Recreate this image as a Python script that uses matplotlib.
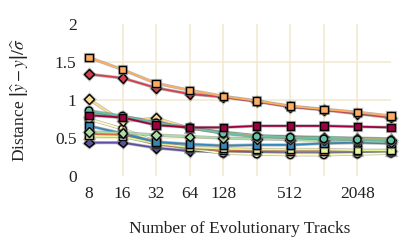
import matplotlib
matplotlib.use("Agg")
import matplotlib.pyplot as plt
import matplotlib.patheffects as pe

plt.rcParams['font.family'] = ['Liberation Serif', 'DejaVu Serif']
plt.rcParams['mathtext.fontset'] = 'stix'

tracks = [8, 16, 32, 64, 128, 256, 512, 1024, 2048, 4096]
tick_values = [8, 16, 32, 64, 128, 256, 512, 1024, 2048, 4096]
tick_labels = ['8', '16', '32', '64', '128', '', '512', '', '2048', '']
y_ticks = [0, 0.5, 1, 1.5, 2]
y_labels = ['0', '0.5', '1', '1.5', '2']

s_purple = [0.44, 0.44, 0.37, 0.33, 0.32, 0.32, 0.32, 0.32, 0.32, 0.33]
s_paleyellow = [0.75, 0.62, 0.45, 0.36, 0.30, 0.29, 0.28, 0.28, 0.29, 0.30]
s_orange = [0.55, 0.54, 0.42, 0.37, 0.34, 0.34, 0.33, 0.33, 0.33, 0.33]
s_lime = [0.53, 0.52, 0.43, 0.38, 0.36, 0.35, 0.35, 0.35, 0.34, 0.34]
s_blue = [0.66, 0.56, 0.45, 0.42, 0.40, 0.41, 0.41, 0.43, 0.44, 0.43]
s_green = [0.58, 0.57, 0.54, 0.52, 0.50, 0.49, 0.48, 0.47, 0.46, 0.45]
s_teal2 = [0.84, 0.78, 0.72, 0.63, 0.58, 0.53, 0.52, 0.51, 0.50, 0.49]
s_yellow = [1.01, 0.72, 0.76, 0.63, 0.57, 0.53, 0.51, 0.50, 0.49, 0.48]
s_teal = [0.86, 0.79, 0.70, 0.64, 0.56, 0.52, 0.51, 0.49, 0.48, 0.47]
s_darkred = [0.80, 0.77, 0.67, 0.64, 0.64, 0.66, 0.66, 0.66, 0.65, 0.64]
s_red = [1.34, 1.29, 1.16, 1.08, 1.04, 0.98, 0.91, 0.87, 0.82, 0.77]
s_lightorange = [1.56, 1.40, 1.22, 1.13, 1.05, 0.99, 0.92, 0.88, 0.84, 0.79]

series = [
    (s_purple, '#5e4fa2', 'D'),
    (s_paleyellow, '#ffffbf', 'o'),
    (s_orange, '#f46d43', '^'),
    (s_lime, '#e6f598', 's'),
    (s_blue, '#3288bd', 's'),
    (s_green, '#abdda4', 'D'),
    (s_teal2, '#66c2a5', '^'),
    (s_yellow, '#fee08b', 'D'),
    (s_teal, '#66c2a5', 'o'),
    (s_darkred, '#9e0142', 's'),
    (s_red, '#d53e4f', 'D'),
    (s_lightorange, '#fdae61', 's'),
]

fig = plt.figure(figsize=(4.15, 2.48), dpi=100)
ax = fig.add_axes([0.2145, 0.290, 0.7275, 0.613])

ax.set_xscale('log', base=2)
ax.set_xlim(8, 4096)
ax.set_ylim(0, 2)

for vals, col, mk in series:
    ms = 5.3 if mk != 'D' else 4.9
    ax.plot(tracks, vals, color=col, lw=1.3, marker=mk, ms=ms,
            mec='black', mew=1.0, clip_on=False, zorder=3,
            path_effects=[pe.Stroke(linewidth=2.3, foreground='#707070', alpha=0.5), pe.Normal()])

ax.set_xticks(tick_values)
ax.set_xticklabels(tick_labels)
ax.xaxis.set_minor_locator(matplotlib.ticker.NullLocator())
ax.set_yticks(y_ticks)
ax.set_yticklabels(y_labels)

ax.grid(True, color='#f2ead2', lw=1.2, zorder=0)
ax.set_axisbelow(True)
xg = ax.xaxis.get_gridlines()
xg[0].set_visible(False)
xg[-1].set_visible(False)
yg = ax.yaxis.get_gridlines()
yg[0].set_visible(False)
yg[-1].set_visible(False)

for s in ax.spines.values():
    s.set_visible(False)
ax.tick_params(length=0, labelsize=12.5, colors='#222222', pad=7)
ax.tick_params(axis='y', pad=9)

ax.set_xlabel('Number of Evolutionary Tracks', fontsize=12.5, labelpad=14, color='#222222')
ax.set_ylabel(r'Distance $\left|\widehat{y}-y\right|/\widehat{\sigma}$', fontsize=12.5,
              labelpad=18, color='#222222')

fig.savefig('out.png', dpi=100)
